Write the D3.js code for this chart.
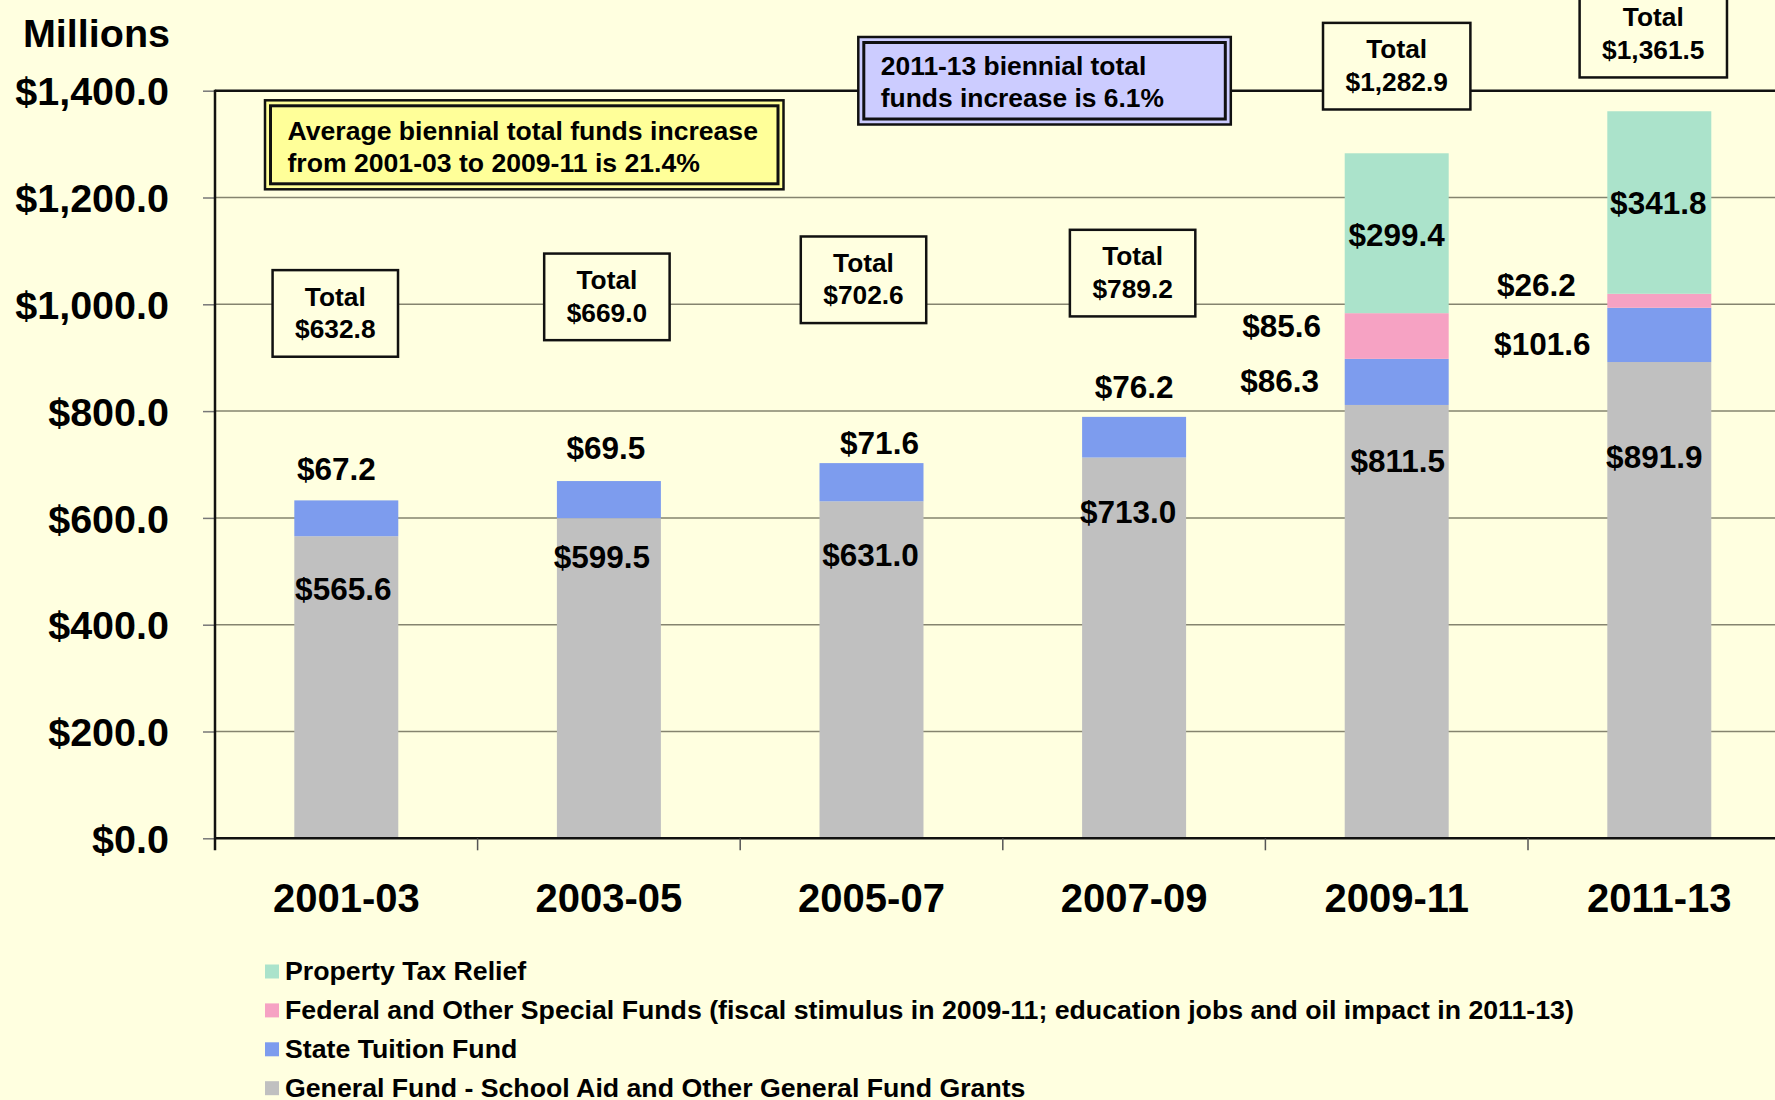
<!DOCTYPE html>
<html>
<head>
<meta charset="utf-8">
<script src="https://cdn.jsdelivr.net/npm/d3@7"></script>
<style>
  html, body { margin: 0; padding: 0; background: #ffffe0; }
  svg { display: block; }
  text { font-family: "Liberation Sans", Arial, sans-serif; font-weight: bold; fill: #000; }
</style>
</head>
<body>
<svg id="chart"></svg>
<script>
// values in millions of dollars, one entry per biennium
const biennia = ['2001-03', '2003-05', '2005-07', '2007-09', '2009-11', '2011-13'];
const generalFund = [565.6, 599.5, 631.0, 713.0, 811.5, 891.9];
const stateTuition = [67.2, 69.5, 71.6, 76.2, 86.3, 101.6];
const federalSpecial = [0, 0, 0, 0, 85.6, 26.2];
const propertyTax = [0, 0, 0, 0, 299.4, 341.8];
const totals = [632.8, 669.0, 702.6, 789.2, 1282.9, 1361.5];
const yTicks = [0, 200, 400, 600, 800, 1000, 1200, 1400];

const seriesNames = {
  property: 'Property Tax Relief',
  federal: 'Federal and Other Special Funds (fiscal stimulus in 2009-11; education jobs and oil impact in 2011-13)',
  tuition: 'State Tuition Fund',
  general: 'General Fund - School Aid and Other General Fund Grants'
};
const colors = { general: '#c0c0c0', tuition: '#7d9cee', federal: '#f6a2c3', property: '#abe3cb' };

const avgNote = ['Average biennial total funds increase', 'from 2001-03 to 2009-11 is 21.4%'];
const newNote = ['2011-13 biennial total', 'funds increase is 6.1%'];

// where each label sits: horizontal shift from the bar centre, and the value level of its baseline
const labelSpots = {
  general: [{ dx: -3, at: 446 }, { dx: -7, at: 506 }, { dx: -1, at: 510 }, { dx: -6, at: 591 }, { dx: 1, at: 686 }, { dx: -5, at: 693 }],
  tuition: [{ dx: -10, at: 671 }, { dx: -3, at: 710 }, { dx: 8, at: 720 }, { dx: 0, at: 825 }, { dx: -117, at: 836 }, { dx: -117, at: 905 }],
  federal: [null, null, null, null, { dx: -115, at: 939 }, { dx: -123, at: 1015 }],
  property: [null, null, null, null, { dx: 0, at: 1109 }, { dx: -1, at: 1169 }]
};
const totalSpots = [
  { dx: -11, top: 1064 }, { dx: -2, top: 1095 }, { dx: -8, top: 1127 },
  { dx: -1.5, top: 1139.5 }, { dx: 0, top: 1527 }, { dx: -6, top: 1587 }
];

const width = 1775;
const height = 1100;
const plotLeft = 215;
const plotRight = 1790.6;
const plotBottom = 838.3;
const plotTop = 90.7;

const svg = d3.select('#chart').attr('width', width).attr('height', height);
svg.append('rect').attr('width', width).attr('height', height).attr('fill', '#ffffe0');

const x = d3.scaleBand().domain(biennia).range([plotLeft, plotRight]).padding(0);
const y = d3.scaleLinear().domain([0, 1400]).range([plotBottom, plotTop]);
const barWidth = x.bandwidth() * 0.396;
const fmt = d3.format('$,.1f');

const rows = biennia.map((b, i) => ({
  biennium: b,
  general: generalFund[i],
  tuition: stateTuition[i],
  federal: federalSpecial[i],
  property: propertyTax[i]
}));
const keys = ['general', 'tuition', 'federal', 'property'];
const stacked = d3.stack().keys(keys)(rows);

// gridlines
svg.append('g')
  .selectAll('line')
  .data(yTicks.filter(t => t > 0 && t < 1400))
  .join('line')
  .attr('x1', plotLeft).attr('x2', plotRight)
  .attr('y1', d => y(d)).attr('y2', d => y(d))
  .attr('stroke', '#85846f').attr('stroke-width', 1.5);

// top border of the plot area
svg.append('line')
  .attr('x1', plotLeft).attr('x2', plotRight)
  .attr('y1', y(1400)).attr('y2', y(1400))
  .attr('stroke', '#111').attr('stroke-width', 2.5);

// bars
svg.append('g')
  .selectAll('g')
  .data(stacked)
  .join('g')
  .attr('fill', d => colors[d.key])
  .selectAll('rect')
  .data(d => d.filter(s => s[1] > s[0]))
  .join('rect')
  .attr('x', d => x(d.data.biennium) + (x.bandwidth() - barWidth) / 2)
  .attr('width', barWidth)
  .attr('y', d => y(d[1]))
  .attr('height', d => y(d[0]) - y(d[1]));

// y axis
const yAxis = svg.append('g')
  .attr('transform', `translate(${plotLeft},0)`)
  .call(d3.axisLeft(y).tickValues(yTicks).tickFormat(fmt).tickSize(12).tickPadding(34));
yAxis.select('.domain').remove();
yAxis.selectAll('.tick line').attr('stroke', '#777').attr('stroke-width', 1.5);
yAxis.selectAll('.tick text')
  .attr('font-size', 39.5)
  .attr('font-family', '"Liberation Sans", Arial, sans-serif')
  .attr('font-weight', 'bold')
  .attr('fill', '#000')
  .attr('dy', '0.36em');

svg.append('line')
  .attr('x1', plotLeft).attr('x2', plotLeft)
  .attr('y1', y(1400) - 1).attr('y2', plotBottom + 12)
  .attr('stroke', '#111').attr('stroke-width', 2.5);

// x axis
svg.append('line')
  .attr('x1', plotLeft).attr('x2', plotRight)
  .attr('y1', plotBottom).attr('y2', plotBottom)
  .attr('stroke', '#111').attr('stroke-width', 2.5);
svg.append('g')
  .selectAll('line')
  .data(biennia.slice(1))
  .join('line')
  .attr('x1', d => x(d)).attr('x2', d => x(d))
  .attr('y1', plotBottom).attr('y2', plotBottom + 12)
  .attr('stroke', '#555').attr('stroke-width', 1.5);
svg.append('g')
  .selectAll('text')
  .data(biennia)
  .join('text')
  .attr('x', d => x(d) + x.bandwidth() / 2)
  .attr('y', 912)
  .attr('text-anchor', 'middle')
  .attr('font-size', 40)
  .text(d => d);

svg.append('text')
  .attr('x', 170).attr('y', 46.5)
  .attr('text-anchor', 'end')
  .attr('font-size', 39.5)
  .text('Millions');

// segment value labels
const values = { general: generalFund, tuition: stateTuition, federal: federalSpecial, property: propertyTax };
const labelData = [];
for (const key of keys) {
  labelSpots[key].forEach((spot, i) => {
    if (spot) labelData.push({ key, i, value: values[key][i], ...spot });
  });
}
svg.append('g')
  .selectAll('text')
  .data(labelData)
  .join('text')
  .attr('x', d => x(biennia[d.i]) + x.bandwidth() / 2 + d.dx)
  .attr('y', d => y(d.at))
  .attr('text-anchor', 'middle')
  .attr('font-size', 31.5)
  .text(d => fmt(d.value));

// total boxes
const boxH = 86.6;
const totalG = svg.append('g')
  .selectAll('g')
  .data(totals.map((t, i) => ({ total: t, i, ...totalSpots[i] })))
  .join('g')
  .attr('transform', d => `translate(${x(biennia[d.i]) + x.bandwidth() / 2 + d.dx},${y(d.top)})`);
totalG.append('rect').attr('class', 'box');
totalG.append('text')
  .attr('y', 35.5)
  .attr('text-anchor', 'middle')
  .attr('font-size', 26.3)
  .text('Total');
totalG.append('text')
  .attr('class', 'amt')
  .attr('y', 68)
  .attr('text-anchor', 'middle')
  .attr('font-size', 26.3)
  .text(d => fmt(d.total));
totalG.each(function() {
  const g = d3.select(this);
  const w = g.select('.amt').node().getComputedTextLength() + 45;
  g.select('.box')
    .attr('x', -w / 2).attr('width', w)
    .attr('y', 0).attr('height', boxH)
    .attr('fill', '#ffffe0')
    .attr('stroke', '#111').attr('stroke-width', 2.5);
});

// double-bordered note boxes
function noteBox(lines, left, top, w, h, fill, baselines, size) {
  const g = svg.append('g').attr('transform', `translate(${left},${top})`);
  g.append('rect')
    .attr('x', 1).attr('y', 1).attr('width', w - 2).attr('height', h - 2)
    .attr('fill', fill).attr('stroke', '#111').attr('stroke-width', 2.5);
  g.append('rect')
    .attr('x', 6.5).attr('y', 6.5).attr('width', w - 13).attr('height', h - 13)
    .attr('fill', 'none').attr('stroke', '#111').attr('stroke-width', 3);
  g.selectAll('text.note')
    .data(lines)
    .join('text')
    .attr('class', 'note')
    .attr('x', 23.5)
    .attr('y', (d, i) => baselines[i])
    .attr('font-size', size)
    .text(d => d);
}
noteBox(avgNote, 264, 99.3, 520.5, 91, '#ffff99', [40.5, 73], 26.6);
noteBox(newNote, 857.3, 36, 374.5, 89.5, '#ccccff', [39, 71], 26.4);

// legend
const legendKeys = ['property', 'federal', 'tuition', 'general'];
const legend = svg.append('g')
  .selectAll('g')
  .data(legendKeys)
  .join('g')
  .attr('transform', (d, i) => `translate(265,${980 + i * 38.9})`);
legend.append('rect')
  .attr('y', -15.5).attr('width', 14).attr('height', 14)
  .attr('fill', d => colors[d]);
legend.append('text')
  .attr('x', 20)
  .attr('font-size', 26.7)
  .text(d => seriesNames[d]);
</script>
</body>
</html>
